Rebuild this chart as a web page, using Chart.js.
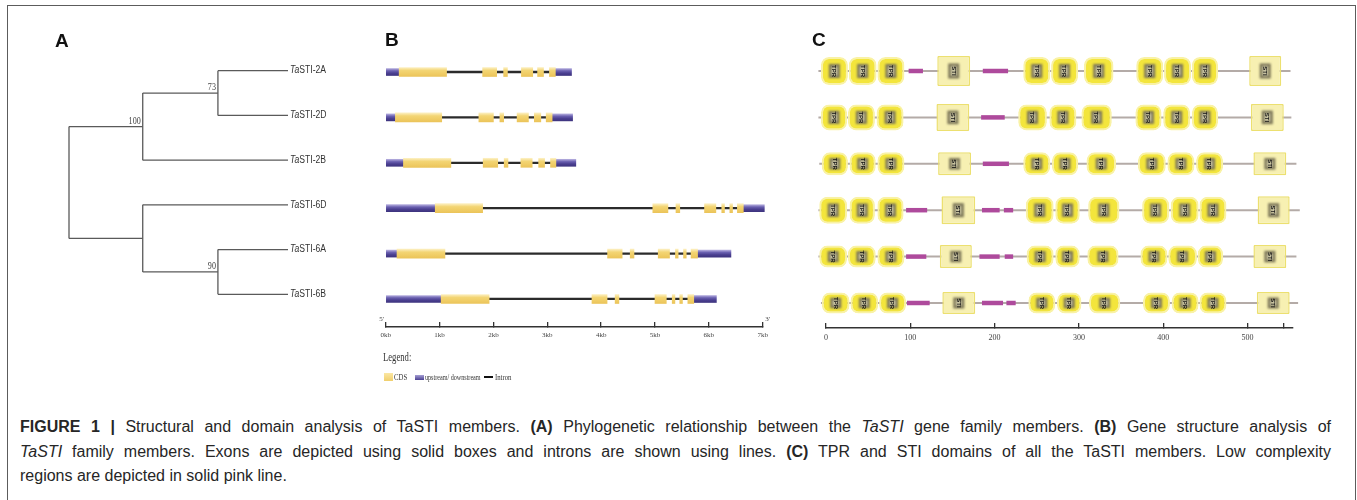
<!DOCTYPE html>
<html>
<head>
<meta charset="utf-8">
<script src="https://cdn.jsdelivr.net/npm/chart.js@4.4.1/dist/chart.umd.min.js"></script>
<style>
  body { margin: 0; background: #fff; }
  #fig { position: relative; width: 1357px; height: 500px; overflow: hidden; background: #fff;
         font-family: "Liberation Sans", Arial, sans-serif; }
  #frame { position: absolute; left: 7px; top: 5px; width: 1349px; height: 530px;
           border: 1.5px solid #5c5c5c; box-sizing: border-box; }
  canvas.layer { position: absolute; left: 0; top: 0; }
  .panel { position: absolute; font-weight: bold; font-size: 19px; line-height: 1; color: #111; }
  .lg { position: absolute; font-family: "Liberation Serif", "DejaVu Serif", serif; color: #333;
        transform-origin: 0 50%; white-space: nowrap; line-height: 1; }
  .sw { position: absolute; }
  .caption { position: absolute; left: 20px; top: 415px; width: 1311px; font-size: 16px;
             line-height: 24.5px; color: #262626; }
  .caption .ln { text-align: justify; text-align-last: justify; }
</style>
</head>
<body>
<div id="fig">
  <div id="frame"></div>
  <canvas id="treeChart" class="layer" width="1357" height="400"></canvas>
  <canvas id="geneChart" class="layer" width="1357" height="400"></canvas>
  <canvas id="domainChart" class="layer" width="1357" height="400"></canvas>

  <div class="panel" style="left:55px;top:31px">A</div>
  <div class="panel" style="left:385px;top:29.5px">B</div>
  <div class="panel" style="left:812px;top:30px">C</div>

  <!-- gene structure key -->
  <div class="lg" style="left:383px;top:351px;font-size:12px;transform:scaleX(0.72)">Legend:</div>
  <div class="sw" style="left:384px;top:373px;width:9px;height:8px;background:linear-gradient(#fbe7a4,#f0cf6c)"></div>
  <div class="lg" style="left:394px;top:373px;font-size:9px;transform:scaleX(0.75)">CDS</div>
  <div class="sw" style="left:415px;top:375px;width:9px;height:5px;background:linear-gradient(#a59ed4,#4b4192)"></div>
  <div class="lg" style="left:425px;top:373px;font-size:9px;transform:scaleX(0.68)">upstream/ downstream</div>
  <div class="sw" style="left:484px;top:376px;width:9px;height:1.5px;background:#111"></div>
  <div class="lg" style="left:495px;top:373px;font-size:9px;transform:scaleX(0.75)">Intron</div>

  <div class="caption">
    <div class="ln"><b>FIGURE 1 |</b> Structural and domain analysis of TaSTI members. <b>(A)</b> Phylogenetic relationship between the <i>TaSTI</i> gene family members. <b>(B)</b> Gene structure analysis of</div>
    <div class="ln"><i>TaSTI</i> family members. Exons are depicted using solid boxes and introns are shown using lines. <b>(C)</b> TPR and STI domains of all the TaSTI members. Low complexity</div>
    <div>regions are depicted in solid pink line.</div>
  </div>
</div>

<script>
Chart.defaults.font.family = '"Liberation Sans", Arial, sans-serif';

// ---------- A: phylogeny ----------
const taxa = ['TaSTI-2A', 'TaSTI-2D', 'TaSTI-2B', 'TaSTI-6D', 'TaSTI-6A', 'TaSTI-6B'];
// children of each internal node: 't#' = taxon, 'c#' = clade
const cladeChildren = [['t0', 't1'], ['c0', 't2'], ['t4', 't5'], ['t3', 'c2'], ['c1', 'c3']];
const cladeDepth = [2.04, 1.01, 2.04, 1.01, 0];
const bootstrap = [73, 100, 90, null, null];
const leafDepth = 3;

// ---------- B: exon / intron structure (kb) ----------
const utr5 = [[0, 0.25], [0, 0.18], [0, 0.33], [0, 0.92], [0, 0.21], [0, 1.03]];
const utr3 = [[3.15, 3.45], [3.09, 3.47], [3.16, 3.53], [6.64, 7.03], [5.79, 6.41], [5.72, 6.14]];
const cdsExons = [
  [[0.25, 1.13], [1.80, 2.06], [2.19, 2.26], [2.52, 2.73], [2.82, 2.93], [3.04, 3.15]],
  [[0.18, 1.04], [1.73, 2.00], [2.12, 2.19], [2.44, 2.65], [2.76, 2.88], [2.98, 3.09]],
  [[0.33, 1.21], [1.81, 2.08], [2.20, 2.27], [2.51, 2.72], [2.84, 2.95], [3.06, 3.16]],
  [[0.92, 1.80], [4.96, 5.24], [5.39, 5.46], [5.92, 6.13], [6.24, 6.29], [6.39, 6.44], [6.53, 6.64]],
  [[0.21, 1.10], [4.12, 4.39], [4.54, 4.61], [5.06, 5.27], [5.38, 5.43], [5.53, 5.58], [5.67, 5.79]],
  [[1.03, 1.92], [3.83, 4.11], [4.26, 4.33], [5.00, 5.21], [5.32, 5.37], [5.46, 5.51], [5.61, 5.72]]
];
const kbTicks = [0, 1, 2, 3, 4, 5, 6, 7];

// ---------- C: protein domains (aa) ----------
const proteinSpan = [[-9, 551], [-9, 552], [-8, 558], [-9, 562], [-9, 558], [-6, 560]];
const tprDomains = [
  [[-6, 26], [27, 60], [61, 93], [234, 266], [267, 299], [306, 341], [368, 400], [401, 433], [434, 465]],
  [[-6, 25], [26, 58], [60, 92], [228, 262], [265, 297], [303, 339], [367, 398], [400, 432], [434, 465]],
  [[-5, 26], [28, 59], [61, 93], [234, 266], [268, 299], [309, 344], [370, 403], [405, 437], [439, 471]],
  [[-8, 25], [28, 58], [61, 92], [237, 270], [272, 301], [311, 348], [375, 407], [409, 442], [443, 475]],
  [[-8, 25], [26, 59], [61, 93], [238, 270], [272, 301], [310, 347], [373, 405], [406, 440], [441, 471]],
  [[-5, 28], [29, 62], [63, 95], [240, 272], [274, 303], [312, 349], [376, 408], [410, 442], [443, 475]]
];
const stiDomains = [
  [[132, 171], [502, 540]],
  [[131, 170], [504, 543]],
  [[133, 172], [507, 546]],
  [[137, 177], [512, 550]],
  [[135, 173], [507, 546]],
  [[138, 177], [511, 550]]
];
const lowComplexity = [
  [[98, 115], [186, 216]],
  [[184, 212]],
  [[186, 217]],
  [[95, 120], [185, 206], [211, 222]],
  [[95, 119], [182, 206], [212, 222]],
  [[96, 123], [185, 210], [214, 225]]
];
const tprHeight = [28, 26, 23, 27, 22, 21];
const stiHeight = [30, 27, 23, 28, 23, 22];
const aaTicks = [0, 100, 200, 300, 400, 500];
const aaAxisEnd = 543;

const W = 1357, H = 400, AXIS_H = 20;
const baseOptions = { responsive: false, animation: false, events: [],
  plugins: { legend: { display: false }, tooltip: { enabled: false } } };

// ---------- tree geometry ----------
function nodePos(id) {
  const k = +id.slice(1);
  if (id[0] === 't') return { x: leafDepth, y: k };
  const kids = cladeChildren[k].map(nodePos);
  return { x: cladeDepth[k], y: (kids[0].y + kids[kids.length - 1].y) / 2 };
}
const branchSegments = [];
cladeChildren.forEach((kids, k) => {
  const p = nodePos('c' + k);
  const ks = kids.map(nodePos);
  branchSegments.push([{ x: p.x, y: ks[0].y }, { x: p.x, y: ks[ks.length - 1].y }]);
  ks.forEach(c => branchSegments.push([{ x: p.x, y: c.y }, { x: c.x, y: c.y }]));
});

const treeLabels = {
  id: 'treeLabels',
  afterDatasetsDraw(chart) {
    const { ctx, scales: { x, y } } = chart;
    ctx.save();
    ctx.fillStyle = '#333';
    ctx.textBaseline = 'middle';
    taxa.forEach((name, i) => {
      ctx.save();
      ctx.translate(x.getPixelForValue(leafDepth) + 2, y.getPixelForValue(i));
      ctx.scale(0.86, 1);
      ctx.font = 'italic 10px "Liberation Sans"';
      ctx.fillText(name.slice(0, 2), 0, 0);
      const w = ctx.measureText(name.slice(0, 2)).width;
      ctx.font = '10px "Liberation Sans"';
      ctx.fillText(name.slice(2), w, 0);
      ctx.restore();
    });
    ctx.fillStyle = '#444';
    ctx.textAlign = 'right';
    ctx.textBaseline = 'alphabetic';
    bootstrap.forEach((b, k) => {
      if (b == null) return;
      const p = nodePos('c' + k);
      ctx.save();
      ctx.translate(x.getPixelForValue(p.x) - 2, y.getPixelForValue(p.y) - 3);
      ctx.scale(0.85, 1);
      ctx.font = '9.5px "Liberation Serif"';
      ctx.fillText(String(b), 0, 0);
      ctx.restore();
    });
    ctx.restore();
  }
};

new Chart(document.getElementById('treeChart'), {
  type: 'scatter',
  data: { datasets: branchSegments.map(seg => ({
    data: seg, showLine: true, borderColor: '#5a5a5a', borderWidth: 1.3,
    pointRadius: 0, clip: false })) },
  options: { ...baseOptions,
    layout: { padding: { left: 69, right: W - 288, top: 70.7, bottom: H - 294.3 } },
    scales: {
      x: { type: 'linear', display: false, min: 0, max: leafDepth },
      y: { type: 'linear', display: false, min: 0, max: taxa.length - 1, reverse: true }
    } },
  plugins: [treeLabels]
});

// ---------- helpers ----------
function vGradient(stops, h) {
  return ctx => {
    const c = ctx.chart;
    if (!c.chartArea || !ctx.raw) return stops[Math.floor(stops.length / 2)];
    const yc = c.scales.y.getPixelForValue(ctx.raw.y);
    const g = c.ctx.createLinearGradient(0, yc - h / 2, 0, yc + h / 2);
    stops.forEach((s, i) => g.addColorStop(i / (stops.length - 1), s));
    return g;
  };
}
const upwardTicks = { drawOnChartArea: false, drawTicks: true, tickLength: -5, color: '#333', lineWidth: 1.3 };

// ---------- B chart ----------
const geneEnds = {
  id: 'geneEnds',
  afterDraw(chart) {
    const { ctx, chartArea } = chart;
    ctx.save();
    ctx.fillStyle = '#444';
    ctx.font = '7px "Liberation Serif"';
    ctx.textAlign = 'center';
    ctx.textBaseline = 'middle';
    ctx.fillText("5'", chartArea.left - 4, chartArea.bottom - 8);
    ctx.fillText("3'", chartArea.right + 5, chartArea.bottom - 8);
    ctx.restore();
  }
};

new Chart(document.getElementById('geneChart'), {
  type: 'bar',
  data: { datasets: [
    { data: taxa.map((t, i) => ({ x: [utr5[i][1], utr3[i][0]], y: i })),
      backgroundColor: '#2b2b2b', barThickness: 1.6, order: 3 },
    { data: taxa.flatMap((t, i) => [{ x: utr5[i], y: i }, { x: utr3[i], y: i }]),
      backgroundColor: vGradient(['#b3acdd', '#6a60b0', '#4a3f90', '#3e347f'], 7), barThickness: 7, order: 2 },
    { data: taxa.flatMap((t, i) => cdsExons[i].map(e => ({ x: e, y: i }))),
      backgroundColor: vGradient(['#fcefc0', '#f3d574', '#f0cd66', '#ebc45a'], 9),
      borderWidth: 0, barThickness: 9, order: 1 }
  ].map(d => ({ grouped: false, borderSkipped: false, clip: false, ...d })) },
  options: { ...baseOptions, indexAxis: 'y',
    layout: { padding: { left: 385.7, right: W - 762.7, top: 49.3, bottom: H - 327 - AXIS_H } },
    scales: {
      x: { type: 'linear', min: 0, max: 7, offset: false,
        afterBuildTicks: s => { s.ticks = kbTicks.map(v => ({ value: v })); },
        afterFit: s => { s.height = AXIS_H; },
        grid: upwardTicks,
        border: { display: true, color: '#333', width: 1.5 },
        ticks: { padding: 9, color: '#444', font: { family: '"Liberation Serif"', size: 7 },
          maxRotation: 0, autoSkip: false, callback: v => v + 'kb' } },
      y: { type: 'linear', display: false, offset: false, min: -0.5, max: 5.617, reverse: true }
    } },
  plugins: [geneEnds]
});

// ---------- C chart ----------
const domainLabels = {
  id: 'domainLabels',
  afterDatasetsDraw(chart) {
    const ctx = chart.ctx;
    chart.data.datasets.forEach((ds, di) => {
      if (!ds.domainName) return;
      chart.getDatasetMeta(di).data.forEach(bar => {
        const cx = (bar.x + bar.base) / 2, cy = bar.y, h = bar.height;
        const bw = 11, bh = Math.max(10, h * 0.5);
        ctx.save();
        ctx.filter = 'blur(1.2px)';
        ctx.fillStyle = '#7d7758';
        ctx.fillRect(cx - bw / 2, cy - bh / 2, bw, bh);
        ctx.filter = 'blur(1px)';
        ctx.fillStyle = '#c9c4a2';
        ctx.fillRect(cx - bw / 2 + 2.5, cy - bh / 2 + 2.5, bw - 5, bh - 5);
        ctx.filter = 'none';
        ctx.translate(cx, cy);
        ctx.rotate(Math.PI / 2);
        ctx.fillStyle = '#151515';
        ctx.font = 'bold 6px "Liberation Sans"';
        ctx.textAlign = 'center';
        ctx.textBaseline = 'middle';
        ctx.fillText(ds.domainName, 0, 0.5);
        ctx.restore();
      });
    });
  }
};

const domainSets = [];
taxa.forEach((t, i) => {
  domainSets.push({ data: [{ x: proteinSpan[i], y: i }], backgroundColor: '#b4aba7',
    barThickness: 2, order: 4 });
  domainSets.push({ data: lowComplexity[i].map(r => ({ x: r, y: i })), backgroundColor: '#ae4a9c',
    barThickness: 4.5, order: 3 });
  domainSets.push({ data: stiDomains[i].map(r => ({ x: r, y: i })), domainName: 'STI',
    backgroundColor: '#f7f0b2', borderColor: '#ece070', borderWidth: 1.5, borderRadius: 1,
    barThickness: stiHeight[i], order: 2 });
  domainSets.push({ data: tprDomains[i].map(r => ({ x: r, y: i })), domainName: 'TPR',
    backgroundColor: '#f3e53c', borderColor: '#f9f2a6', borderWidth: 2, borderRadius: 8,
    barThickness: tprHeight[i], order: 1 });
});

new Chart(document.getElementById('domainChart'), {
  type: 'bar',
  data: { datasets: domainSets.map(d => ({ grouped: false, borderSkipped: false, clip: false,
    inflateAmount: 0, ...d })) },
  options: { ...baseOptions, indexAxis: 'y',
    layout: { padding: { left: 826, right: W - 1292.2, top: 47.8, bottom: H - 328 - AXIS_H } },
    scales: {
      x: { type: 'linear', min: 0, max: 553, offset: false,
        afterBuildTicks: s => { s.ticks = aaTicks.concat([aaAxisEnd]).map(v => ({ value: v })); },
        afterFit: s => { s.height = AXIS_H; },
        grid: upwardTicks,
        border: { display: true, color: '#333', width: 1.5 },
        ticks: { padding: 10, color: '#444', font: { family: '"Liberation Serif"', size: 8 },
          maxRotation: 0, autoSkip: false, callback: v => (v === aaAxisEnd ? '' : v) } },
      y: { type: 'linear', display: false, offset: false, min: -0.5, max: 5.539, reverse: true }
    } },
  plugins: [domainLabels]
});
</script>
</body>
</html>
